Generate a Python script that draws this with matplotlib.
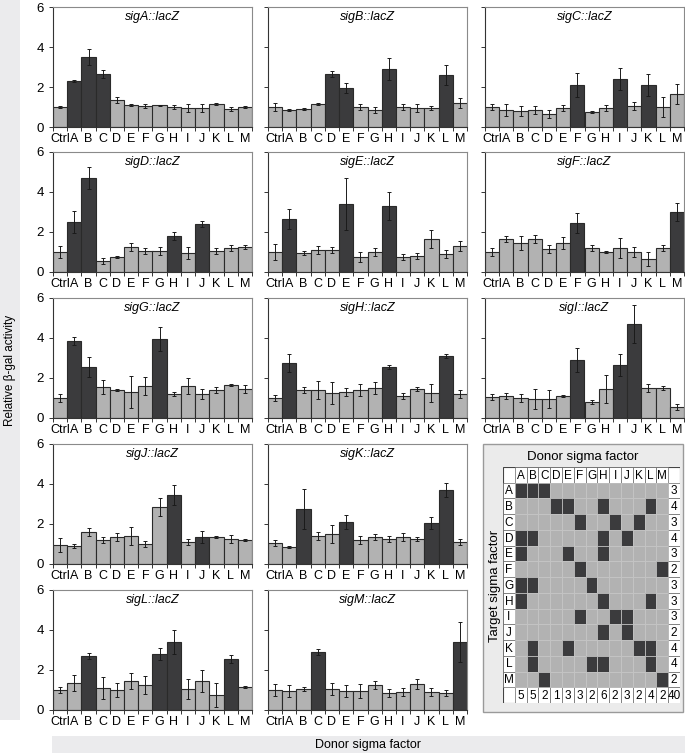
import matplotlib.pyplot as plt
from matplotlib.patches import Rectangle
import numpy as np

plt.rcParams['font.family'] = ['Liberation Sans', 'DejaVu Sans']

donors = ["Ctrl", "A", "B", "C", "D", "E", "F", "G", "H", "I", "J", "K", "L", "M"]
sigmas = ["A", "B", "C", "D", "E", "F", "G", "H", "I", "J", "K", "L", "M"]

# activating donor sigma factors for each target (matrix panel)
hits = {
    "A": "ABC", "B": "DEHL", "C": "FIK", "D": "ABHJ", "E": "AEH",
    "F": "FM", "G": "ABG", "H": "AHL", "I": "FIJ", "J": "HJ",
    "K": "BEKL", "L": "BGHL", "M": "CM",
}

# relative beta-gal activity, one list per reporter (Ctrl, A..M)
val_A = [1.0, 2.3, 3.5, 2.65, 1.35, 1.1, 1.05, 1.08, 1.0, 0.97, 0.95, 1.15, 0.9, 1.0]
err_A = [0.05, 0.05, 0.4, 0.2, 0.15, 0.05, 0.1, 0.03, 0.1, 0.2, 0.2, 0.03, 0.1, 0.05]
val_B = [1.0, 0.85, 0.9, 1.15, 2.65, 1.95, 1.0, 0.85, 2.9, 1.0, 0.95, 0.95, 2.6, 1.2]
err_B = [0.2, 0.05, 0.05, 0.05, 0.15, 0.25, 0.15, 0.15, 0.55, 0.15, 0.2, 0.1, 0.5, 0.25]
val_C = [1.0, 0.85, 0.8, 0.85, 0.65, 0.95, 2.1, 0.75, 0.95, 2.4, 1.05, 2.1, 1.0, 1.65]
err_C = [0.15, 0.3, 0.25, 0.2, 0.2, 0.15, 0.6, 0.05, 0.15, 0.55, 0.2, 0.55, 0.5, 0.5]
val_D = [1.0, 2.5, 4.7, 0.55, 0.75, 1.25, 1.05, 1.05, 1.8, 0.95, 2.4, 1.05, 1.2, 1.25]
err_D = [0.3, 0.55, 0.55, 0.15, 0.05, 0.2, 0.15, 0.2, 0.2, 0.3, 0.15, 0.15, 0.15, 0.1]
val_E = [1.0, 2.65, 0.95, 1.1, 1.1, 3.4, 0.75, 1.0, 3.3, 0.75, 0.8, 1.65, 0.9, 1.3]
err_E = [0.4, 0.5, 0.1, 0.2, 0.15, 1.3, 0.25, 0.2, 0.7, 0.15, 0.15, 0.45, 0.2, 0.25]
val_F = [1.0, 1.65, 1.45, 1.65, 1.15, 1.45, 2.45, 1.2, 1.0, 1.2, 1.0, 0.65, 1.2, 3.0]
err_F = [0.2, 0.15, 0.35, 0.2, 0.2, 0.3, 0.5, 0.15, 0.05, 0.5, 0.25, 0.35, 0.15, 0.45]
val_G = [1.0, 3.85, 2.55, 1.55, 1.4, 1.3, 1.6, 3.95, 1.2, 1.6, 1.2, 1.4, 1.65, 1.45]
err_G = [0.2, 0.2, 0.5, 0.35, 0.05, 0.8, 0.45, 0.6, 0.1, 0.4, 0.25, 0.15, 0.05, 0.2]
val_H = [1.0, 2.75, 1.4, 1.4, 1.25, 1.3, 1.4, 1.5, 2.55, 1.1, 1.45, 1.25, 3.1, 1.2]
err_H = [0.15, 0.45, 0.15, 0.45, 0.55, 0.2, 0.3, 0.3, 0.1, 0.15, 0.1, 0.45, 0.1, 0.2]
val_I = [1.05, 1.1, 1.0, 0.95, 0.95, 1.1, 2.9, 0.8, 1.45, 2.65, 4.7, 1.5, 1.5, 0.55]
err_I = [0.15, 0.15, 0.2, 0.5, 0.45, 0.05, 0.6, 0.1, 0.7, 0.55, 0.95, 0.2, 0.1, 0.15]
val_J = [0.95, 0.9, 1.6, 1.2, 1.35, 1.4, 1.0, 2.85, 3.45, 1.1, 1.35, 1.35, 1.25, 1.2]
err_J = [0.35, 0.1, 0.2, 0.15, 0.2, 0.45, 0.15, 0.45, 0.5, 0.15, 0.3, 0.05, 0.2, 0.05]
val_K = [1.05, 0.85, 2.75, 1.4, 1.5, 2.1, 1.2, 1.35, 1.25, 1.35, 1.25, 2.05, 3.7, 1.1]
err_K = [0.15, 0.05, 1.0, 0.2, 0.45, 0.35, 0.2, 0.15, 0.15, 0.2, 0.1, 0.3, 0.35, 0.15]
val_L = [1.0, 1.35, 2.7, 1.1, 1.0, 1.45, 1.25, 2.8, 3.4, 1.05, 1.45, 0.75, 2.55, 1.15]
err_L = [0.15, 0.4, 0.15, 0.55, 0.35, 0.4, 0.45, 0.3, 0.6, 0.5, 0.55, 0.6, 0.2, 0.05]
val_M = [1.0, 0.95, 1.05, 2.9, 1.05, 0.95, 0.95, 1.25, 0.85, 0.9, 1.3, 0.9, 0.85, 3.4]
err_M = [0.3, 0.3, 0.1, 0.15, 0.3, 0.3, 0.35, 0.2, 0.2, 0.2, 0.25, 0.2, 0.15, 1.0]

panels = [
    ("A", val_A, err_A), ("B", val_B, err_B), ("C", val_C, err_C),
    ("D", val_D, err_D), ("E", val_E, err_E), ("F", val_F, err_F),
    ("G", val_G, err_G), ("H", val_H, err_H), ("I", val_I, err_I),
    ("J", val_J, err_J), ("K", val_K, err_K),
    ("L", val_L, err_L), ("M", val_M, err_M),
]
# (row, col) of each panel in the grid
slots = [(0, 0), (0, 1), (0, 2), (1, 0), (1, 1), (1, 2), (2, 0), (2, 1), (2, 2),
         (3, 0), (3, 1), (4, 0), (4, 1)]

LIGHT = "#b2b2b2"
DARK = "#3b3b3d"
W, H = 685, 753

fig = plt.figure(figsize=(6.85, 7.53), dpi=100)


def fig_rect(x, y, w, h, **kw):
    # x, y, w, h in pixels from the top-left corner
    r = Rectangle((x / W, 1 - (y + h) / H), w / W, h / H, transform=fig.transFigure,
                  zorder=-10, **kw)
    fig.add_artist(r)


# grey side/bottom strips
fig_rect(0, 0, 20, 720, facecolor="#ebebed", edgecolor="none")
fig_rect(52, 736, 633, 17, facecolor="#ebebed", edgecolor="none")
fig.text(10 / W, 1 - 370 / H, "Relative β-gal activity", rotation=90,
         ha="center", va="center", fontsize=8.5)
fig.text(368 / W, 1 - 745 / H, "Donor sigma factor", ha="center", va="center", fontsize=9)

col_left = [53, 268, 485]
row_top = [7, 152, 298, 444, 590]
x = np.arange(len(donors))

for (target, vals, errs), (r, c) in zip(panels, slots):
    ax = fig.add_axes([col_left[c] / W, 1 - (row_top[r] + 120) / H, 199 / W, 120 / H])
    colors = [LIGHT] + [DARK if d in hits[target] else LIGHT for d in donors[1:]]
    ax.bar(x, vals, width=1.0, color=colors, edgecolor="#2a2a2a", linewidth=0.8,
           yerr=errs, error_kw=dict(elinewidth=0.7, capsize=1.2, capthick=0.7, ecolor="#1a1a1a"))
    ax.set_xlim(-0.5, 13.5)
    ax.set_ylim(0, 6)
    ax.set_xticks(x)
    ax.set_xticklabels(donors, fontsize=9)
    ax.set_xticks(np.arange(-0.5, 14, 1), minor=True)
    ax.tick_params(axis="x", which="major", length=0, pad=4)
    ax.tick_params(axis="x", which="minor", length=3, width=0.7, color="#333")
    ax.set_yticks([0, 2, 4, 6])
    ax.tick_params(axis="y", length=3, width=0.7, color="#333", labelsize=9.5)
    if c != 0:
        ax.set_yticklabels([])
    for s in ["left", "bottom"]:
        ax.spines[s].set_color("#333")
        ax.spines[s].set_linewidth(0.8)
    for s in ["top", "right"]:
        ax.spines[s].set_color("#8a8a8a")
        ax.spines[s].set_linewidth(0.8)
    ax.text(6.5, 5.5, "sig" + target + "::lacZ", style="italic", ha="center", va="center",
            fontsize=9)

# matrix panel
fig_rect(483, 444, 200, 268, facecolor="#ebebeb", edgecolor="#9a9a9a", linewidth=1.0)
fig.text(583 / W, 1 - 457 / H, "Donor sigma factor", ha="center", va="center", fontsize=9.5)
fig.text(495 / W, 1 - 586 / H, "Target sigma factor", rotation=90, ha="center", va="center",
         fontsize=9.5)

mx = fig.add_axes([503 / W, 1 - 703 / H, 177 / W, 236 / H])
mx.set_xlim(0, 15)
mx.set_ylim(15, 0)
mx.axis("off")
FS = 8.5
mx.add_patch(Rectangle((0, 0), 15, 15, facecolor="white", edgecolor="#444", linewidth=0.8))
for j, d in enumerate(sigmas):
    mx.add_patch(Rectangle((j + 1, 0), 1, 1, facecolor="white", edgecolor="#666", linewidth=0.5))
    mx.text(j + 1.5, 0.55, d, ha="center", va="center", fontsize=FS)
    total = sum(d in hits[t] for t in sigmas)
    mx.add_patch(Rectangle((j + 1, 14), 1, 1, facecolor="white", edgecolor="#666", linewidth=0.5))
    mx.text(j + 1.5, 14.55, str(total), ha="center", va="center", fontsize=FS)
for i, t in enumerate(sigmas):
    mx.add_patch(Rectangle((0, i + 1), 1, 1, facecolor="white", edgecolor="#666", linewidth=0.5))
    mx.text(0.5, i + 1.55, t, ha="center", va="center", fontsize=FS)
    mx.add_patch(Rectangle((14, i + 1), 1, 1, facecolor="white", edgecolor="#666", linewidth=0.5))
    mx.text(14.5, i + 1.55, str(len(hits[t])), ha="center", va="center", fontsize=FS)
    for j, d in enumerate(sigmas):
        fc = DARK if d in hits[t] else LIGHT
        mx.add_patch(Rectangle((j + 1, i + 1), 1, 1, facecolor=fc, edgecolor="#c6c6c6",
                               linewidth=0.5))
mx.add_patch(Rectangle((14, 14), 1, 1, facecolor="white", edgecolor="#666", linewidth=0.5))
mx.text(14.5, 14.55, str(sum(len(v) for v in hits.values())), ha="center", va="center",
        fontsize=FS)

fig.savefig("out.png", dpi=100)
